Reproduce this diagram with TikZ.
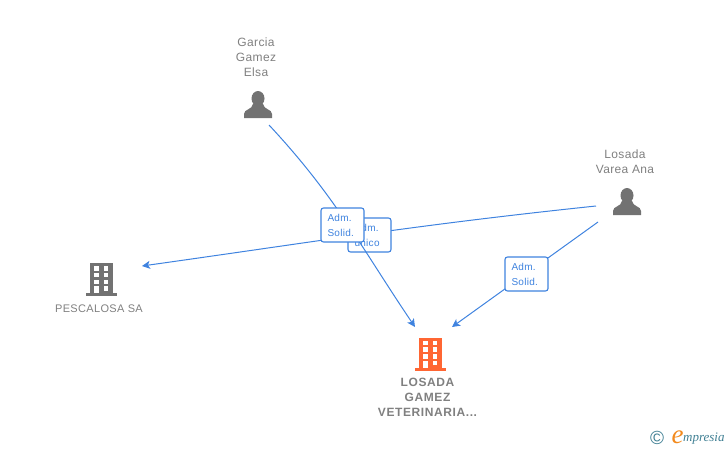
\documentclass[tikz,border=0pt]{standalone}
\usepackage{fontspec}
\setmainfont[LetterSpace=3]{Liberation Sans}
\newfontfamily\logofont{Liberation Serif}
\newfontfamily\spacedfont[LetterSpace=5]{Liberation Sans}
\usetikzlibrary{positioning,arrows.meta}
\definecolor{linkblue}{HTML}{3F83DF}
\definecolor{labelgray}{HTML}{808080}
\definecolor{icongray}{HTML}{727272}
\definecolor{iconorange}{HTML}{FF6633}
\definecolor{logoorange}{HTML}{F28A1E}
\definecolor{logoblue}{HTML}{3F7F93}
\begin{document}
\begin{tikzpicture}[
        x=1pt, y=-1pt,
        % define styles
        nametext/.style={
            align=center,
            text=labelgray,
            font=\fontsize{12}{15}\selectfont,
            inner sep=0pt
        },
        maintext/.style={
            nametext,
            font=\spacedfont\bfseries\fontsize{12}{15}\selectfont
        },
        link/.style={
            draw=linkblue,
            line width=1pt
        },
        tagbox/.style={
            draw=linkblue,
            line width=1.1pt,
            fill=white,
            rounded corners=2.5pt,
            minimum width=43pt,
            minimum height=34pt,
            inner sep=0pt,
            text=linkblue,
            font=\fontsize{10}{15}\selectfont,
            align=left,
            text width=30pt
        },
        person/.pic={
            \fill[icongray] (0,-19.5) ellipse (6.5 and 7.5);
            \fill[icongray] (-14,0) -- (-14,-4) .. controls (-14,-9) and (-6,-8) .. (-5,-14)
                -- (5,-14) .. controls (6,-8) and (14,-9) .. (14,-4) -- (14,0) -- cycle;
        },
        building/.pic={
            \fill[pic actions] (-11.5,-33) rectangle (11.5,-3);
            \fill[pic actions] (-15.5,-3) rectangle (15.5,0);
            \foreach \wy in {-30,-23.5,-16.5}
                \foreach \wx in {-7,2.5}
                    \fill[white] (\wx,\wy) rectangle ++(4.5,4.5);
            \fill[white] (-7,-10) rectangle (-2.5,-3);
            \fill[white] (2.5,-10) rectangle (7,-5.5);
        },
        >={Stealth[length=8pt,width=8pt,inset=2pt]}
    ]
    \useasboundingbox (0,0) rectangle (728,450);

    % people and companies
    \node[nametext] (garcia) at (256,57) {Garcia\\Gamez\\Elsa};
    \node[nametext] (varea) at (625,162) {Losada\\Varea Ana};
    \node[nametext, font=\fontsize{11}{14}\selectfont] (pescalosa) at (99,308.5) {PESCALOSA SA};
    \node[maintext] (losada) at (427.5,397) {LOSADA\\GAMEZ\\VETERINARIA...};

    \pic at (258,118) {person};
    \pic at (627,215) {person};
    \pic[fill=icongray] at (101,296) {building};
    \pic[fill=iconorange] at (430,370.5) {building};

    % free ends of the connectors
    \coordinate (garciaout) at (269,125);
    \coordinate (vareaout) at (596,206);
    \coordinate (vareaoutb) at (598,222);
    \coordinate (pescalosain) at (142,266);
    \coordinate (losadain) at (415,327);
    \coordinate (losadainb) at (452,327);

    %line from varea to pescalosa, under both tags
    \draw[link,->] (vareaout) to[out=186, in=8] (pescalosain);
    \node[tagbox] (unico) at (369.5,235) {Adm.\\único};

    %line from garcia to losada
    \draw[link,->] (garciaout) to[out=-47, in=124] (losadain);
    \node[tagbox] (solida) at (342.5,225) {Adm.\\Solid.};

    %line from varea to losada
    \draw[link,->] (vareaoutb) -- (losadainb);
    \node[tagbox] (solidb) at (526.5,274) {Adm.\\Solid.};

    % logo
    \node[inner sep=0pt, text=logoblue, font=\fontsize{19}{19}\selectfont] (copy) at (657,438) {©};
    \node[inner sep=0pt, text=logoorange, font=\logofont\itshape\fontsize{27}{27}\selectfont] (logoe) at (677.5,437) {e};
    \node[inner sep=0pt, text=logoblue, font=\logofont\itshape\fontsize{13}{13}\selectfont, anchor=west] (logotext) at (683,439) {mpresia};
\end{tikzpicture}
\end{document}
